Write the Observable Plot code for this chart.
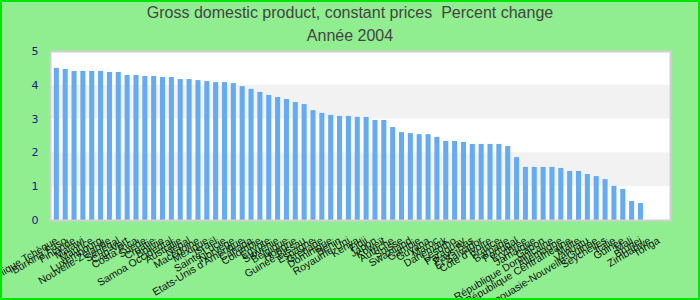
<!DOCTYPE html>
<html>
<head>
<meta charset="utf-8">
<script src="https://cdn.jsdelivr.net/npm/d3@7"></script>
<script src="https://cdn.jsdelivr.net/npm/@observablehq/plot@0.6"></script>
<style>
  html, body { margin: 0; padding: 0; background: #90ee90; }
  #wrap { position: relative; width: 700px; height: 300px; background: #90ee90; overflow: hidden;
          font-family: "Liberation Sans", Arial, sans-serif; }
  #frame { position: absolute; left: 0; top: 0; width: 700px; height: 300px; box-sizing: border-box;
           border: 2px solid #00e600; pointer-events: none; z-index: 5; }
  .ttl { position: absolute; left: 0; width: 700px; text-align: center; color: #444; font-size: 16px; line-height: 20px; }
  #t1 { top: 3px; }
  #t2 { top: 26px; }
  #chart { position: absolute; left: 0; top: 40px; }
</style>
</head>
<body>
<div id="wrap">
  <div class="ttl" id="t1">Gross domestic product, constant prices&nbsp; Percent change</div>
  <div class="ttl" id="t2">Année 2004</div>
  <div id="chart"></div>
  <div id="frame"></div>
</div>
<script>
const countries = [
  "République Tchèque", "Burkina Faso", "Finlande", "Malawi", "Maurice", "Luxembourg",
  "Nouvelle-Zélande", "Sénégal", "Cap-Vert", "Costa Rica", "Suède", "Croatie",
  "Bolivie", "Samoa Occidental", "Australie", "Népal", "Macédoine", "Mexique",
  "Israël", "Sainte-Lucie", "Norvège", "Etats-Unis d'Amérique", "Canada", "Colombie",
  "Egypte", "Slovénie", "Belgique", "Hongrie", "Guinée-Bissau", "Espagne",
  "Grenade", "Dominique", "Bénin", "Royaume-Uni", "Kenya", "Fidji",
  "Japon", "Koweït", "Autriche", "Suisse", "Swaziland", "Gambie",
  "Guyana", "Maroc", "Danemark", "Lesotho", "Paraguay", "Pays-Bas",
  "El Salvador", "Côte d'Ivoire", "France", "Barbade", "Portugal", "Erythrée",
  "Jamaïque", "Gabon", "République Dominicaine", "Allemagne", "République Centrafricaine", "Malte",
  "Vanuatu", "Papouasie-Nouvelle-Guinée", "Seychelles", "Italie", "Guinée", "Mali",
  "Brunei", "Zimbabwe", "Tonga"
];
const growth = [
  4.50, 4.47, 4.41, 4.41, 4.41, 4.41,
  4.38, 4.38, 4.29, 4.29, 4.26, 4.26,
  4.23, 4.23, 4.17, 4.17, 4.14, 4.11,
  4.08, 4.08, 4.05, 3.96, 3.88, 3.79,
  3.70, 3.64, 3.58, 3.49, 3.43, 3.25,
  3.17, 3.11, 3.08, 3.08, 3.05, 3.05,
  2.96, 2.96, 2.75, 2.60, 2.57, 2.54,
  2.54, 2.46, 2.34, 2.34, 2.31, 2.25,
  2.25, 2.25, 2.25, 2.19, 1.86, 1.57,
  1.57, 1.57, 1.57, 1.54, 1.45, 1.45,
  1.36, 1.30, 1.21, 1.01, 0.92, 0.56,
  0.50, null, null
];
const yTicks = [0, 1, 2, 3, 4, 5];

const data = countries.map((c, i) => ({country: c, value: growth[i]}));
const stripes = yTicks.slice(0, -1).map((t, i) => ({y1: t, y2: yTicks[i + 1], odd: i % 2 === 1})).filter(d => d.odd);

const chart = Plot.plot({
  width: 700,
  height: 260,
  marginLeft: 50,
  marginRight: 30,
  marginTop: 11,
  marginBottom: 80,
  style: {background: "transparent", fontFamily: "Liberation Sans, Arial, sans-serif", overflow: "visible"},
  x: {domain: countries, padding: 0.43, insetRight: 5.5, label: null},
  y: {domain: [0, 5], label: null},
  marks: [
    Plot.frame({fill: "white", stroke: null}),
    Plot.rect(stripes, {y1: "y1", y2: "y2", fill: "#f2f2f2"}),
    Plot.barY(data, {x: "country", y: "value", fill: "#64aaf4"}),
    Plot.frame({stroke: "#d0d0d0", strokeWidth: 2}),
    Plot.axisY({ticks: yTicks, tickFormat: d => String(d), tickSize: 0, tickPadding: 12, fill: "#1a1a8a", fontFamily: "DejaVu Sans", fontSize: 11, label: null}),
    Plot.axisX({tickSize: 0, tickPadding: 19, tickRotate: -31, fontSize: 10.5, fill: "#111", label: null})
  ]
});
document.getElementById("chart").appendChild(chart);
</script>
</body>
</html>
